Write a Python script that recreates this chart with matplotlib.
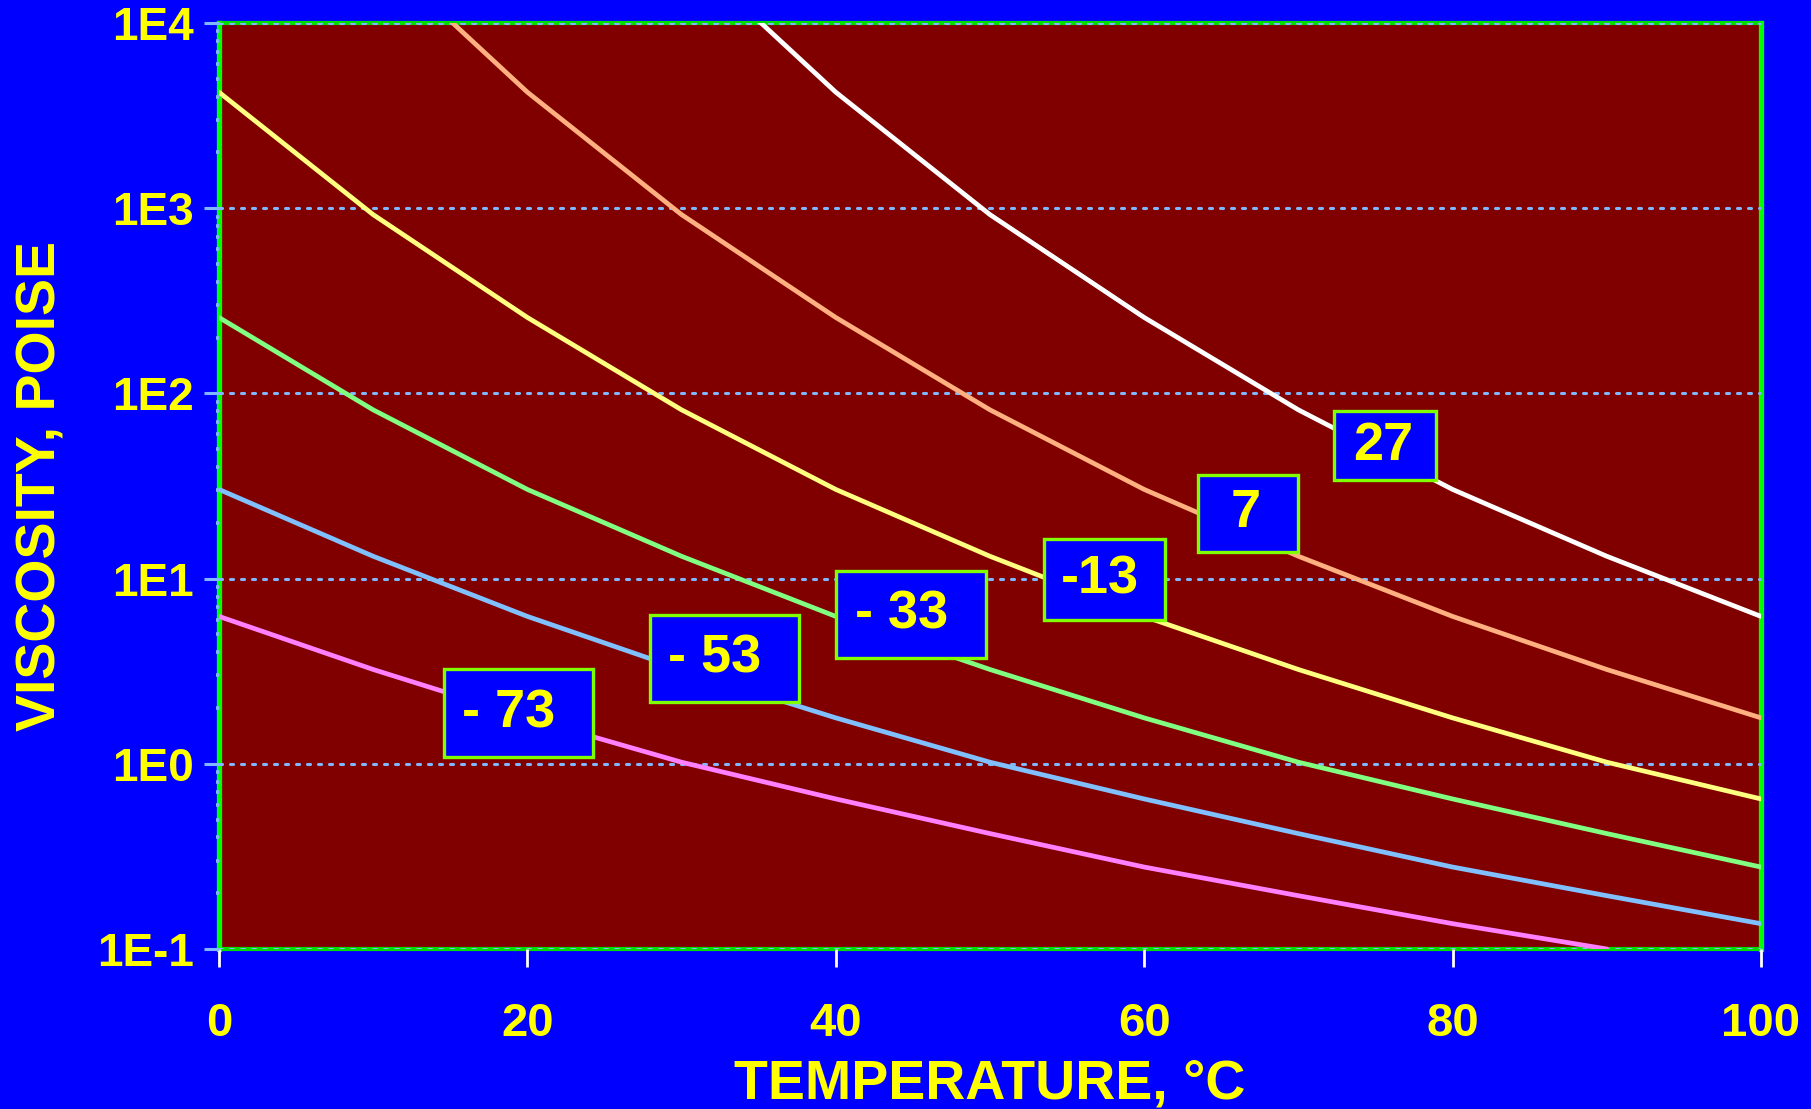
import matplotlib
matplotlib.use("Agg")
import matplotlib.pyplot as plt
from matplotlib.patches import Rectangle
from matplotlib.ticker import FixedLocator, LogLocator, NullFormatter

plt.rcParams['font.family'] = ['Liberation Sans', 'DejaVu Sans']

# ---- data (viscosity in poise vs temperature in °C) ----
temp_27 = [30, 40, 50, 60, 70, 80, 90, 100]
visc_27 = [25000, 4230, 923, 257, 81.5, 30.3, 13.2, 6.25]

temp_7 = [10, 20, 30, 40, 50, 60, 70, 80, 90, 100]
visc_7 = [25000, 4230, 923, 257, 81.5, 30.3, 13.2, 6.25, 3.23, 1.77]

temp_m13 = [0, 10, 20, 30, 40, 50, 60, 70, 80, 90, 100]
visc_m13 = [4230, 923, 257, 81.5, 30.3, 13.2, 6.25, 3.23, 1.77, 1.02, 0.646]

temp_m33 = [0, 10, 20, 30, 40, 50, 60, 70, 80, 90, 100]
visc_m33 = [257, 81.5, 30.3, 13.2, 6.25, 3.23, 1.77, 1.02, 0.646, 0.420, 0.277]

temp_m53 = [0, 10, 20, 30, 40, 50, 60, 70, 80, 90, 100]
visc_m53 = [30.3, 13.2, 6.25, 3.23, 1.77, 1.02, 0.646, 0.420, 0.277, 0.194, 0.137]

temp_m73 = [0, 10, 20, 30, 40, 50, 60, 70, 80, 90]
visc_m73 = [6.25, 3.23, 1.77, 1.02, 0.646, 0.420, 0.277, 0.194, 0.137, 0.100]

series_labels = ["27", "7", "-13", "- 33", "- 53", "- 73"]
series_colors = ["#FFFFFF", "#FFB080", "#FFFF80", "#80FF80", "#80C0FF", "#FF80FF"]

# label box centres (°C, poise)
label_temp = [75.6, 66.7, 57.4, 44.9, 32.8, 19.4]
label_visc = [52.0, 22.5, 9.9, 6.4, 3.7, 1.87]

x_ticks = [0, 20, 40, 60, 80, 100]
y_ticks = [0.1, 1, 10, 100, 1000, 10000]
y_tick_labels = ["1E-1", "1E0", "1E1", "1E2", "1E3", "1E4"]

# ---- figure ----
W, H = 1811, 1109
fig = plt.figure(figsize=(W / 100, H / 100), dpi=100, facecolor="#0000FF")
ax_l, ax_r, ax_b, ax_t = 219 / W, 1761 / W, 1 - 949 / H, 1 - 23 / H
ax = fig.add_axes([ax_l, ax_b, ax_r - ax_l, ax_t - ax_b])
ax.set_facecolor("#800000")

ax.set_yscale("log")
ax.set_xlim(0, 100)
ax.set_ylim(0.1, 10000)

temps = [temp_27, temp_7, temp_m13, temp_m33, temp_m53, temp_m73]
viscs = [visc_27, visc_7, visc_m13, visc_m33, visc_m53, visc_m73]
for t, v, c in zip(temps, viscs, series_colors):
    ax.plot(t, v, color=c, lw=3.4, solid_capstyle="round",
            solid_joinstyle="round", zorder=3)

# grid
ax.yaxis.grid(True, which="major", color="#80B8FF", linestyle=(0, (1, 2.6)),
              lw=2.2, dash_capstyle="round")
ax.set_axisbelow(False)
for gl in ax.get_ygridlines():
    gl.set_zorder(2)

# spines
for s in ["left", "right"]:
    ax.spines[s].set_color("#00FF00")
    ax.spines[s].set_linewidth(3.8)
for s in ["top", "bottom"]:
    ax.spines[s].set_color("#00DD00")
    ax.spines[s].set_linewidth(3.0)
    ax.spines[s].set_zorder(1.5)

# ticks
ax.set_xticks(x_ticks)
ax.set_xticklabels([str(x) for x in x_ticks])
ax.yaxis.set_major_locator(FixedLocator(y_ticks))
ax.set_yticklabels(y_tick_labels)
ax.yaxis.set_minor_locator(LogLocator(base=10, subs=range(2, 10)))
ax.yaxis.set_minor_formatter(NullFormatter())

ax.tick_params(axis="x", which="major", direction="out", length=13, width=2.0,
               color="white", pad=25, labelsize=34, labelcolor="#FFFF00")
ax.tick_params(axis="y", which="major", direction="out", length=11, width=2.2,
               color="#80B8FF", pad=7, labelsize=33, labelcolor="#FFFF00")
ax.tick_params(axis="y", which="minor", direction="out", length=2.0, width=2.6,
               color="#80B8FF")
for lab in ax.get_xticklabels() + ax.get_yticklabels():
    lab.set_fontweight("bold")

ax.set_xlabel("TEMPERATURE, °C", fontsize=40, fontweight="bold", color="#FFFF00",
              labelpad=9)
ax.set_ylabel("VISCOSITY, POISE", fontsize=40, fontweight="bold", color="#FFFF00",
              labelpad=21)

# label boxes
box_w_px = [102, 100, 121, 150, 149, 149]
box_h_px = [69, 77, 81, 87, 87, 88]
text_dx_px = [-2, -2, -4, -10, -10, -10]
ax_w_px = (ax_r - ax_l) * W
ax_h_px = (ax_t - ax_b) * H
to_axes = ax.transAxes.inverted()
for lab, tx, vy, bw, bh, dx in zip(series_labels, label_temp, label_visc,
                                   box_w_px, box_h_px, text_dx_px):
    cx, cy = to_axes.transform(ax.transData.transform((tx, vy)))
    w, h = bw / ax_w_px, bh / ax_h_px
    ax.add_patch(Rectangle((cx - w / 2, cy - h / 2), w, h, transform=ax.transAxes,
                           facecolor="#0000FF", edgecolor="#80FF00", lw=2.4, zorder=5))
    ax.text(cx + dx / ax_w_px, cy, lab, transform=ax.transAxes, ha="center",
            va="center", fontsize=39, fontweight="bold", color="#FFFF00", zorder=6)

fig.savefig("out.png", dpi=100, facecolor=fig.get_facecolor())
